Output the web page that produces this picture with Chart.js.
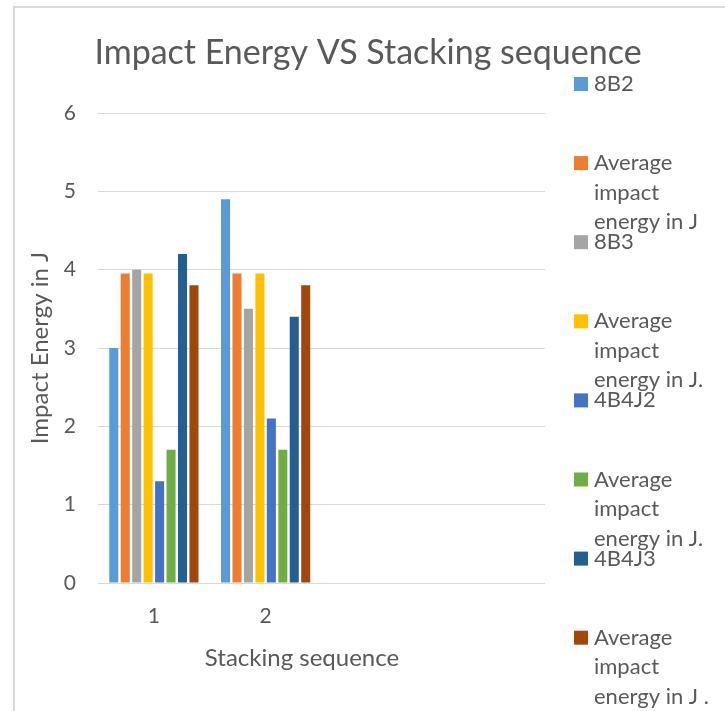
<!DOCTYPE html>
<html>
<head>
<meta charset="utf-8">
<script src="https://cdn.jsdelivr.net/npm/chart.js@4"></script>
<style>
html,body{margin:0;padding:0;background:#fff;overflow:hidden;}
#wrap{position:relative;width:725px;height:711px;}
</style>
</head>
<body>
<div id="wrap"><canvas id="c" width="725" height="711"></canvas></div>
<script>
const categories = ['1', '2', '', ''];
const seriesNames = ['8B2', 'Average impact energy in J', '8B3', 'Average impact energy in J.', '4B4J2', 'Average impact energy in J.', '4B4J3', 'Average impact energy in J .'];
const s8B2 = [3.0, 4.9];
const sAvg1 = [3.95, 3.95];
const s8B3 = [4.0, 3.5];
const sAvg2 = [3.95, 3.95];
const s4B4J2 = [1.3, 2.1];
const sAvg3 = [1.7, 1.7];
const s4B4J3 = [4.2, 3.4];
const sAvg4 = [3.8, 3.8];
const yTicks = [0, 1, 2, 3, 4, 5, 6];
const titleText = 'Impact Energy VS Stacking sequence';
const xTitle = 'Stacking sequence';
const yTitle = 'Impact Energy in J';

const seriesValues = [s8B2, sAvg1, s8B3, sAvg2, s4B4J2, sAvg3, s4B4J3, sAvg4];
const colors = ['#5B9BD5', '#ED7D31', '#A5A5A5', '#FFC000', '#4472C4', '#70AD47', '#255E91', '#9E480E'];
const FONT = 'Lato';
const TXT = '#595959';

const decor = {
  id: 'decor',
  beforeDraw(chart) {
    const ctx = chart.ctx;
    ctx.save();
    ctx.fillStyle = '#fff';
    ctx.fillRect(0, 0, chart.width, chart.height);
    ctx.strokeStyle = '#d9d9d9';
    ctx.lineWidth = 2;
    ctx.strokeRect(14, 7, 900, 900);
    ctx.restore();
  },
  afterDraw(chart) {
    const ctx = chart.ctx;
    ctx.save();
    ctx.fillStyle = TXT;
    // title
    ctx.font = '34px ' + FONT;
    ctx.textAlign = 'center';
    ctx.textBaseline = 'alphabetic';
    ctx.fillText(titleText, 368, 64);
    // x title
    ctx.font = '24px ' + FONT;
    ctx.textBaseline = 'middle';
    ctx.fillText(xTitle, 302, 658);
    // legend
    const ds = chart.data.datasets;
    ctx.textAlign = 'left';
    ctx.font = '22px ' + FONT;
    for (let i = 0; i < ds.length; i++) {
      const y0 = 84 + 79.1 * i;
      ctx.fillStyle = ds[i].backgroundColor;
      ctx.fillRect(574, y0 - 7, 14, 14);
      ctx.fillStyle = TXT;
      const words = ds[i].label.split(' ');
      const lines = [];
      let cur = '';
      for (const w of words) {
        const t = cur ? cur + ' ' + w : w;
        if (cur && ctx.measureText(t).width > 125) { lines.push(cur); cur = w; } else cur = t;
      }
      if (cur) lines.push(cur);
      lines.forEach((ln, k) => ctx.fillText(ln, 594, y0 + 29.5 * k));
    }
    ctx.restore();
  }
};

new Chart(document.getElementById('c'), {
  type: 'bar',
  data: {
    labels: categories,
    datasets: seriesValues.map((v, i) => ({
      label: seriesNames[i],
      data: v,
      backgroundColor: colors[i],
      borderWidth: 0,
      categoryPercentage: 0.82,
      barPercentage: 0.79
    }))
  },
  options: {
    responsive: false,
    animation: false,
    devicePixelRatio: 1,
    layout: { padding: { left: 0, top: 113, right: 180, bottom: 0 } },
    plugins: { legend: { display: false }, title: { display: false }, tooltip: { enabled: false } },
    scales: {
      x: {
        grid: { display: false, drawTicks: false },
        border: { display: false },
        ticks: { color: TXT, font: { family: FONT, size: 21 }, padding: 21, maxRotation: 0 },
        afterFit(s) { s.height = 128; }
      },
      y: {
        min: 0, max: 6,
        afterBuildTicks(s) { s.ticks = yTicks.map(v => ({ value: v })); },
        grid: { color: '#d9d9d9', lineWidth: 1, drawTicks: false },
        border: { display: false },
        ticks: { color: TXT, font: { family: FONT, size: 21 }, padding: 22 },
        title: { display: true, text: yTitle, color: TXT, font: { family: FONT, size: 24 }, padding: { top: 26, bottom: 0 } },
        afterFit(s) { s.width = 98; }
      }
    }
  },
  plugins: [decor]
});
</script>
</body>
</html>
